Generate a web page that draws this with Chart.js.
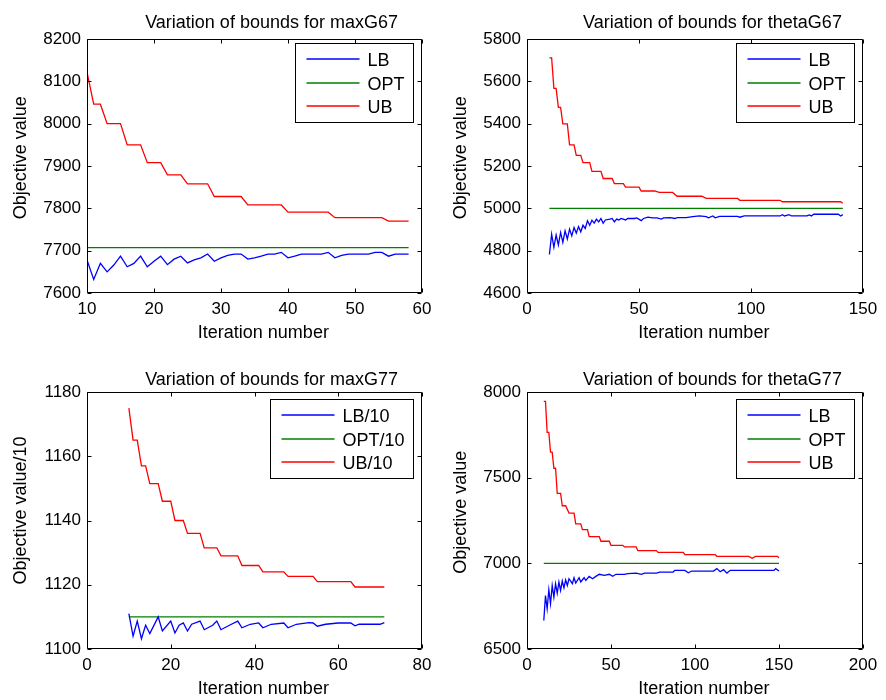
<!DOCTYPE html>
<html>
<head>
<meta charset="utf-8">
<title>Variation of bounds</title>
<script src="https://cdn.jsdelivr.net/npm/chart.js@4.4.1/dist/chart.umd.min.js"></script>
<style>
  body { margin: 0; background: #fff; }
  #page { position: relative; width: 886px; height: 700px; overflow: hidden; }
  #page canvas { position: absolute; }
</style>
</head>
<body>
<div id="page">
  <canvas id="maxG67" width="443" height="345" style="left:0;top:0"></canvas>
  <canvas id="thetaG67" width="443" height="345" style="left:443px;top:0"></canvas>
  <canvas id="maxG77" width="443" height="345" style="left:0;top:355px"></canvas>
  <canvas id="thetaG77" width="443" height="345" style="left:443px;top:355px"></canvas>
</div>
<script>
// ---- maxG67 ----
const maxG67Iter = [10,11,12,13,14,15,16,17,18,19,20,21,22,23,24,25,26,27,28,29,30,31,32,33,34,35,36,37,38,39,40,41,42,43,44,45,46,47,48,49,50,51,52,53,54,55,56,57,58];
const maxG67LB = [7678,7632,7670,7650,7666,7687,7662,7670,7687,7662,
                  7675,7687,7667,7680,7687,7671,7678,7683,7692,7675,
                  7683,7689,7692,7692,7680,7683,7687,7692,7692,7696,
                  7683,7687,7692,7692,7692,7692,7696,7683,7689,7692,
                  7692,7692,7692,7696,7696,7687,7692,7692,7692];
const maxG67UB = [8122,8046,8046,8000,8000,8000,7950,7950,7950,7908,
                  7908,7908,7879,7879,7879,7858,7858,7858,7858,7828,
                  7828,7828,7828,7828,7808,7808,7808,7808,7808,7808,
                  7791,7791,7791,7791,7791,7791,7791,7778,7778,7778,
                  7778,7778,7778,7778,7778,7770,7770,7770,7770];
const maxG67OptIter = [10, 58];
const maxG67Opt = [7707, 7707];

// ---- thetaG67 ----
const thetaG67LBIter = [10,11,12,13,14,15,16,17,18,19,20,21,22,23,24,25,26,27,28,29,30,31,32,33,34,35,
                        37,38,39,40,41,42,44,45,48,49,51,52,54,56,58,60,61,64,66,67,
                        71,74,77,80,81,83,84,86,94,95,97,113,114,115,117,118,125,126,127,128,139,140,141];
const thetaG67LB = [4782,4878,4816,4874,4827,4886,4839,4894,4855,4902,4870,4909,4883,4914,4889,4920,4905,4941,4920,4944,4930,4949,4936,4952,4930,4945,
                    4949,4952,4936,4949,4945,4952,4945,4952,4952,4955,4942,4952,4958,4955,4955,4949,4955,4956,4952,4956,
                    4956,4961,4964,4961,4955,4964,4955,4962,4962,4958,4964,4964,4970,4964,4970,4964,4964,4969,4964,4972,4972,4964,4970];
const thetaG67UBIter = [10,11,12,13,14,15,16,18,19,21,22,24,25,28,29,33,34,38,39,43,44,50,51,57,59,65,67,78,80,94,95,113,114,140,141];
const thetaG67UB = [5711,5711,5567,5567,5477,5477,5399,5399,5300,5300,5250,5250,5216,5216,5175,5175,5141,5141,5117,5117,
                    5100,5100,5082,5082,5075,5075,5057,5057,5047,5047,5038,5038,5031,5031,5024];
const thetaG67OptIter = [10, 141];
const thetaG67Opt = [5000, 5000];

// ---- maxG77 (values /10) ----
const maxG77LBIter = [10,11,12,13,14,15,17,18,20,21,22,23,24,25,27,28,30,31,32,34,36,37,39,41,42,44,47,48,50,53,54,55,57,60,63,64,65,70,71];
const maxG77LB = [1111,1104,1108.7,1103.2,1107.4,1104.8,1110,1105.6,1108.7,1105,
                  1107.4,1108.1,1105.6,1107.7,1108.7,1106,1107.4,1108.7,1106,1107.4,
                  1108.7,1106.6,1107.7,1108.1,1106.6,1107.7,1108.1,1106.6,1107.7,1108.2,
                  1108.1,1107.1,1107.7,1108.1,1108.1,1107.2,1107.7,1107.7,1108.2];
const maxG77UBIter = [10,11,12,13,14,15,17,18,20,21,23,24,27,28,31,32,36,37,41,42,47,48,54,55,63,64,71];
const maxG77UB = [1175,1165,1165,1157,1157,1151.5,1151.5,1146,1146,1140,1140,1136,1136,1131.5,1131.5,
                  1129,1129,1126,1126,1124,1124,1122.6,1122.6,1121,1121,1119.3,1119.3];
const maxG77OptIter = [10, 71];
const maxG77Opt = [1110, 1110];

// ---- thetaG77 ----
const thetaG77LBIter = [10,11,12,13,14,15,16,17,18,19,20,21,22,23,24,25,27,28,29,31,32,34,35,37,39,41,
                        43,46,49,51,53,58,60,65,68,70,77,79,87,88,94,96,98,111,113,115,117,119,121,147,148,150];
const thetaG77LB = [6666,6812,6735,6846,6764,6871,6803,6881,6826,6891,6842,6897,6857,6904,6871,6910,
                    6881,6916,6885,6916,6891,6916,6900,6924,6910,6924,
                    6936,6930,6936,6924,6936,6936,6940,6943,6936,6943,
                    6943,6949,6949,6959,6959,6945,6955,6955,6969,6951,
                    6963,6943,6959,6959,6969,6955];
const thetaG77UBIter = [10,11,12,13,14,15,16,17,18,20,21,23,25,28,29,32,33,36,37,43,44,49,50,57,58,65,66,77,78,93,94,112,113,132,134,136,149,150];
const thetaG77UB = [7945,7945,7764,7764,7649,7649,7555,7555,7408,7408,7336,7336,7293,7293,7230,7230,7197,7197,7156,7156,
                    7129,7129,7105,7105,7096,7096,7074,7074,7064,7064,7051,7051,7041,7041,7030,7041,7041,7033];
const thetaG77OptIter = [10, 150];
const thetaG77Opt = [7000, 7000];

const FONT = '"Liberation Sans", Arial, Helvetica, sans-serif';
const SHIFT = 0.0675;   // matlab export puts long labels a bit off centre

Chart.defaults.font.family = FONT;
Chart.defaults.color = '#000';

const pts = (xs, ys) => xs.map((x, i) => ({ x: x, y: ys[i] }));

// box with inward ticks on all sides + title and axis labels
const matlabAxes = {
  id: 'matlabAxes',
  afterDatasetsDraw(chart, args, o) {
    const { ctx, chartArea: a, scales } = chart;
    const L = Math.round(a.left) + 0.5, R = Math.round(a.right) - 0.5;
    const T = Math.round(a.top) + 0.5, B = Math.round(a.bottom) - 0.5;
    ctx.save();
    ctx.strokeStyle = '#000';
    ctx.lineWidth = 1;
    ctx.beginPath();
    ctx.rect(L, T, R - L, B - T);
    scales.x.ticks.forEach(t => {
      const px = Math.round(scales.x.getPixelForValue(t.value)) + 0.5;
      ctx.moveTo(px, B); ctx.lineTo(px, B - 4);
      ctx.moveTo(px, T); ctx.lineTo(px, T + 4);
    });
    scales.y.ticks.forEach(t => {
      const py = Math.round(scales.y.getPixelForValue(t.value)) + 0.5;
      ctx.moveTo(L, py); ctx.lineTo(L + 4, py);
      ctx.moveTo(R, py); ctx.lineTo(R - 4, py);
    });
    ctx.stroke();

    ctx.fillStyle = '#000';
    ctx.font = '18px ' + FONT;
    ctx.textAlign = 'center';
    ctx.textBaseline = 'alphabetic';
    const cx = (a.left + a.right) / 2, cy = (a.top + a.bottom) / 2;
    let w = ctx.measureText(o.title).width;
    ctx.fillText(o.title, cx + w * SHIFT, a.top - o.titleGap);
    w = ctx.measureText(o.xLabel).width;
    ctx.fillText(o.xLabel, cx + w * SHIFT, a.bottom + 44.5);
    w = ctx.measureText(o.yLabel).width;
    ctx.translate(a.left - 61, cy - w * SHIFT);
    ctx.rotate(-Math.PI / 2);
    ctx.fillText(o.yLabel, 0, 0);
    ctx.restore();
  }
};

// legend box in the upper right corner of the axes
const boxLegend = {
  id: 'boxLegend',
  afterDraw(chart, args, o) {
    const { ctx, chartArea: a } = chart;
    const sets = chart.data.datasets;
    ctx.save();
    ctx.font = '18px ' + FONT;
    const tw = Math.max(...sets.map(d => ctx.measureText(d.label).width));
    const w = Math.round(72 + tw + 9), h = 79;
    const x0 = Math.round(a.right - 9 - w) + 0.5, y0 = Math.round(a.top + o.top) + 0.5;
    ctx.fillStyle = '#fff';
    ctx.fillRect(x0, y0, w, h);
    ctx.strokeStyle = '#000';
    ctx.lineWidth = 1;
    ctx.strokeRect(x0, y0, w, h);
    ctx.textAlign = 'left';
    ctx.textBaseline = 'middle';
    sets.forEach((d, i) => {
      const ly = Math.round(y0 + 15.5 + i * 23.7);
      ctx.strokeStyle = d.borderColor;
      ctx.lineWidth = 1.3;
      ctx.beginPath();
      ctx.moveTo(x0 + 11, ly);
      ctx.lineTo(x0 + 64, ly);
      ctx.stroke();
      ctx.fillStyle = '#000';
      ctx.fillText(d.label, x0 + 72, ly + 2);
    });
    ctx.restore();
  }
};

function makeChart(id, c) {
  const line = (label, data, color) => ({
    label: label, data: data, borderColor: color, borderWidth: 1.3,
    pointRadius: 0, tension: 0, fill: false
  });
  new Chart(document.getElementById(id), {
    type: 'line',
    data: {
      datasets: [
        line(c.names[0], c.lb, '#0000ff'),
        line(c.names[1], c.opt, '#008000'),
        line(c.names[2], c.ub, '#ff0000')
      ]
    },
    options: {
      responsive: false,
      animation: false,
      devicePixelRatio: 1,
      layout: { padding: { top: c.padTop, right: c.padRight, left: 0, bottom: 0 } },
      plugins: {
        legend: { display: false },
        title: { display: false },
        tooltip: { enabled: false },
        matlabAxes: { title: c.title, xLabel: 'Iteration number', yLabel: c.yLabel, titleGap: c.titleGap },
        boxLegend: { top: c.legendTop }
      },
      scales: {
        x: {
          type: 'linear', min: c.x[0], max: c.x[1],
          afterFit: s => { s.height = c.xHeight; },
          ticks: { stepSize: c.x[2], autoSkip: false, maxRotation: 0, padding: 6,
                   font: { size: 17 }, color: '#000', callback: v => String(v) },
          grid: { display: false, drawTicks: false },
          border: { display: false }
        },
        y: {
          type: 'linear', min: c.y[0], max: c.y[1],
          afterFit: s => { s.width = c.yWidth; },
          ticks: { stepSize: c.y[2], autoSkip: false, padding: 6,
                   font: { size: 17 }, color: '#000', callback: v => String(v) },
          grid: { display: false, drawTicks: false },
          border: { display: false }
        }
      }
    },
    plugins: [matlabAxes, boxLegend]
  });
}

makeChart('maxG67', {
  title: 'Variation of bounds for maxG67', yLabel: 'Objective value',
  names: ['LB', 'OPT', 'UB'],
  lb: pts(maxG67Iter, maxG67LB), opt: pts(maxG67OptIter, maxG67Opt), ub: pts(maxG67Iter, maxG67UB),
  x: [10, 60, 10], y: [7600, 8200, 100],
  padTop: 39, padRight: 21, yWidth: 87, xHeight: 52, titleGap: 11, legendTop: 4
});

makeChart('thetaG67', {
  title: 'Variation of bounds for thetaG67', yLabel: 'Objective value',
  names: ['LB', 'OPT', 'UB'],
  lb: pts(thetaG67LBIter, thetaG67LB), opt: pts(thetaG67OptIter, thetaG67Opt), ub: pts(thetaG67UBIter, thetaG67UB),
  x: [0, 150, 50], y: [4600, 5800, 200],
  padTop: 39, padRight: 23, yWidth: 84, xHeight: 52, titleGap: 11, legendTop: 4
});

makeChart('maxG77', {
  title: 'Variation of bounds for maxG77', yLabel: 'Objective value/10',
  names: ['LB/10', 'OPT/10', 'UB/10'],
  lb: pts(maxG77LBIter, maxG77LB), opt: pts(maxG77OptIter, maxG77Opt), ub: pts(maxG77UBIter, maxG77UB),
  x: [0, 80, 20], y: [1100, 1180, 20],
  padTop: 37, padRight: 21, yWidth: 87, xHeight: 51, titleGap: 7, legendTop: 6.5
});

makeChart('thetaG77', {
  title: 'Variation of bounds for thetaG77', yLabel: 'Objective value',
  names: ['LB', 'OPT', 'UB'],
  lb: pts(thetaG77LBIter, thetaG77LB), opt: pts(thetaG77OptIter, thetaG77Opt), ub: pts(thetaG77UBIter, thetaG77UB),
  x: [0, 200, 50], y: [6500, 8000, 500],
  padTop: 37, padRight: 23, yWidth: 84, xHeight: 51, titleGap: 7, legendTop: 6.5
});
</script>
</body>
</html>
